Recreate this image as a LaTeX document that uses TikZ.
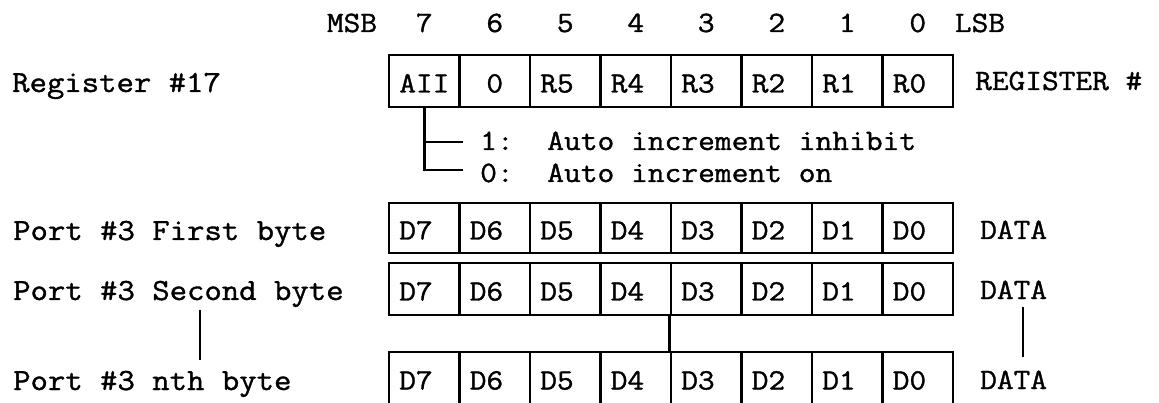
\documentclass[tikz,border=0pt]{standalone}
\usepackage{fontspec}
\setmainfont{Latin Modern Mono}[FakeStretch=1.1,FakeBold=1.2]
\newcommand\celltxt[1]{\makebox[50pt][l]{#1}}
\newcommand\cellmid[1]{\makebox[50pt][c]{#1}}
\begin{document}
\begin{tikzpicture}[x=1pt,y=-1pt,
  every node/.style={font=\fontsize{29.5}{31}\selectfont, inner sep=0pt},
  lbl/.style={anchor=base west},
  side/.style={anchor=base west, font=\fontsize{30.7}{32}\selectfont},
  small/.style={anchor=base west, font=\fontsize{29.6}{31}\selectfont},
  bitnum/.style={anchor=base},
  cell/.style={draw, line width=2.6pt, minimum width=70.5pt, minimum height=52pt,
    text height=23pt, text depth=0pt, inner xsep=9pt, inner ysep=0pt},
  conn/.style={line width=2.6pt}]
\useasboundingbox (0,0) rectangle (1159,403);
\clip (0,0) rectangle (1159,403);

% bit numbers
\node[bitnum] (msb) at (352,32) {MSB};
\foreach \b [count=\i from 0] in {7,6,5,4,3,2,1,0}
  \node[bitnum] (n\b) at (424.25+\i*70.5,32) {\b};
\node[bitnum] (lsb) at (980,32) {LSB};

% left labels
\node[side] (lreg) at (12,92) {Register \#17};
\node[side] (lp1) at (13,240) {Port \#3 First byte};
\node[side] (lp2) at (13,300) {Port \#3 Second byte};
\node[side] (lp3) at (13,390) {Port \#3 nth byte};

% register row
\foreach \t/\b [count=\i from 0] in {\celltxt{AII}/7,\cellmid{0}/6,\celltxt{R5}/5,\celltxt{R4}/4,\celltxt{R3}/3,\celltxt{R2}/2,\celltxt{R1}/1,\celltxt{R0}/0}
  \node[cell] (r\b) at (424.25+\i*70.5,81) {\t};
\node[lbl] (regno) at (975,90) {REGISTER \#};

% bracket
\coordinate (b1) at (463,142);
\coordinate (b0) at (463,170);
\draw[conn] (r7.south) |- (b0);
\draw[conn] (r7.south |- b1) -- (b1);
\node[small] (inh) at (480,150) {1:\ \ Auto increment inhibit};
\node[small] (on) at (480,182) {0:\ \ Auto increment on};

% data rows
\foreach \b [count=\i from 0] in {7,6,5,4,3,2,1,0}{
  \node[cell, minimum height=50pt] (f\b) at (424.25+\i*70.5,228) {\celltxt{D\b}};
  \node[cell] (s\b) at (424.25+\i*70.5,289) {\celltxt{D\b}};
  \node[cell] (t\b) at (424.25+\i*70.5,378) {\celltxt{D\b}};
}
\node[lbl] (d1) at (980,239) {DATA};
\node[lbl] (d2) at (980,299) {DATA};
\node[lbl] (d3) at (980,389) {DATA};

% continuation lines
\draw[conn] (s3.south west) -- (t3.north west);
\coordinate (lc1) at (200,310);
\coordinate (lc2) at (200,360);
\draw[conn] (lc1) -- (lc2);
\coordinate (dc1) at (1023,307);
\coordinate (dc2) at (1023,357);
\draw[conn] (dc1) -- (dc2);
\end{tikzpicture}
\end{document}
